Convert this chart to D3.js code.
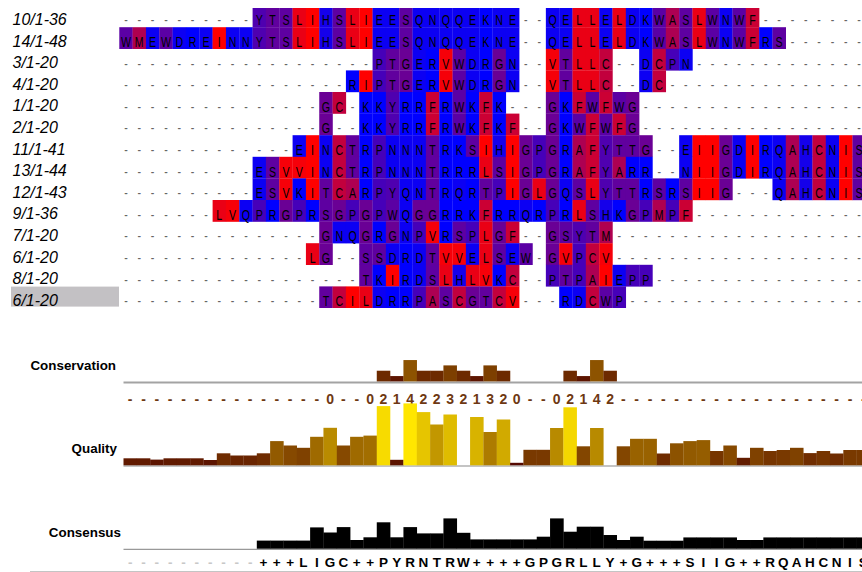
<!DOCTYPE html>
<html><head><meta charset="utf-8">
<script src="https://cdn.jsdelivr.net/npm/d3@7"></script>
<style>html,body{margin:0;padding:0;background:#fff;} svg{display:block;}</style>
</head><body>
<svg id="chart" width="862" height="572"></svg>
<script>
// ---------- DATA ----------
const sequenceNames = ["10/1-36","14/1-48","3/1-20","4/1-20","1/1-20","2/1-20","11/1-41","13/1-44","12/1-43","9/1-36","7/1-20","6/1-20","8/1-20","6/1-20"];
const alignedSequences = [
  "----------YTSLIHSLIEESQNQQEKNE--QELLELDKWASLWNWF--------",
  "WMEWDREINNYTSLIHSLIEESQNQQEKNE--QELLELDKWASLWNWFRS------",
  "-------------------PTGERVWDRGN--VTLLC--DCPN-------------",
  "-----------------RIPTGERVWDRGN--VTLLC--DC---------------",
  "---------------GC-KKYRRFRWKFK---GKFWFWG-----------------",
  "---------------G--KKYRRFRWKFKF--GKWFWFG-----------------",
  "-------------EINCTRPNNNTRKSIHIGPGRAFYTTG--EIIGDIRQAHCNIS",
  "----------ESVVINCTRPNNNTRRRLSIGPGRAFYARR--NIIGDIRQAHCNIS",
  "----------ESVKITCARPYQNTRQRTPIGLGQSLYTTRSRSIIG---QAHCNIS",
  "-------LVQPRGPRSGPGPWQGGRRKFRRQRPRLSHKGPMPF-------------",
  "---------------GNQGRGNPVRSPLGF--GSYTM-------------------",
  "--------------LG--SSDRDTVVELSEW-GVPCV-------------------",
  "------------------TKIRDSLHLVKC--PTPAIEPP----------------",
  "---------------TCILDRRPASCGTCV---RDCWP------------------"
];
const selectedRow = 13;
const conservationScores = [null,null,null,null,null,null,null,null,null,null,null,null,null,null,null,
  0,null,null,0,2,1,4,2,2,3,2,1,3,2,0,null,null,0,2,1,4,2,
  null,null,null,null,null,null,null,null,null,null,null,null,null,null,null,null,null,null,null];
const qualityScores = [7,7,5.7,7,7,7,5.3,12,9.8,9.8,12,24.2,19.8,17.5,28.5,37.5,19.8,28.5,29.7,59.2,5.5,61.9,53.2,40.8,50.8,0,48.3,33.3,45.8,2.5,15.5,15.5,37.3,58,19,37.3,0,19,26.5,26.5,11.8,22,24.2,25.2,14.3,19.8,7.5,17.5,14.3,15.3,17.5,12.2,14.3,11.8,15.3,15.3];
const consensusPercent = [0,0,0,0,0,0,0,0,0,0,13.5,13.5,13.5,13.5,35.5,27,36,14.5,19,44,19,36,25.5,25.5,50.5,26.5,15.5,15.5,15.5,15.5,15.5,20,50.5,28.3,36.7,36.7,22.8,14.5,20,13.3,13.3,13.3,18.8,18.8,18.8,18.8,14.5,14.5,18.8,18.8,18.8,18.8,18.8,18.8,18.8,18.8];
const consensusResidues = "----------+++LIGC++PYRNTRW++++GPGRLLY+G+++SIIG++RQAHCNIS".split("");
const annotationNames = ["Conservation","Quality","Consensus"];
// Kyte-Doolittle hydrophobicity
const hydrophobicity = {A:1.8,R:-4.5,N:-3.5,D:-3.5,C:2.5,Q:-3.5,E:-3.5,G:-0.4,H:-3.2,I:4.5,L:3.8,K:-3.9,M:1.9,F:2.8,P:-1.6,S:-0.8,T:-0.7,W:-0.9,Y:-1.3,V:4.2};

// ---------- DRAW ----------
const svg = d3.select("#chart");
const nCols = alignedSequences[0].length;
const colW = 13.33, rowH = 21.6;
const xAln = d3.scaleLinear().domain([0, nCols]).range([119.3, 119.3 + nCols * colW]);
const xAnn = d3.scaleLinear().domain([0, nCols]).range([123.5, 123.5 + nCols * colW]);
const yRow = d3.scaleBand().domain(d3.range(sequenceNames.length)).range([5.6, 5.6 + sequenceNames.length * rowH]);
const hydColor = d3.scaleLinear().domain([-3.9, 4.5]).range(["rgb(0,0,255)", "rgb(255,0,0)"]).clamp(true);
const annoColor = v => `rgb(${Math.round(255*(0.3+0.7*v))},${Math.round(255*0.9*v)},0)`;
const font = "'Liberation Sans', Arial, sans-serif";

svg.append("defs").append("clipPath").attr("id","alnclip")
  .append("rect").attr("x",119).attr("y",8).attr("width",743).attr("height",300);

// labels
svg.append("rect").attr("x",11).attr("y",yRow(selectedRow)+0.2).attr("width",108).attr("height",20)
  .attr("fill","#c3c1c4");
svg.append("g").selectAll("text").data(sequenceNames).join("text")
  .attr("x",12.5).attr("y",(d,i)=>yRow(i)+19.4)
  .attr("font-family",font).attr("font-style","italic").attr("font-size","16px").attr("fill","#000")
  .text(d=>d);

const cells = [];
alignedSequences.forEach((s,r)=>s.split("").forEach((ch,c)=>cells.push({r,c,ch})));
const aln = svg.append("g").attr("clip-path","url(#alnclip)");
aln.selectAll("rect").data(cells.filter(d=>d.ch!=="-")).join("rect")
  .attr("x",d=>xAln(d.c)).attr("y",d=>yRow(d.r))
  .attr("width",colW+0.2).attr("height",yRow.bandwidth()+0.2)
  .attr("fill",d=>hydColor(hydrophobicity[d.ch]));
aln.selectAll("text").data(cells).join("text")
  .attr("transform",d=>`translate(${xAln(d.c)+colW/2},${yRow(d.r)+19.7}) scale(0.7,1)`)
  .attr("text-anchor","middle").attr("font-family",font).attr("font-size","15.2px")
  .attr("fill",d=>d.ch==="-"?"#666":"#000")
  .text(d=>d.ch);

// annotation labels
const annLabelPos = [[116,369.5],[117,453],[121,536.7]];
svg.append("g").selectAll("text").data(annotationNames).join("text")
  .attr("x",(d,i)=>annLabelPos[i][0]).attr("y",(d,i)=>annLabelPos[i][1])
  .attr("text-anchor","end").attr("font-family",font).attr("font-weight","bold").attr("font-size","13.4px")
  .text(d=>d);

// conservation
const consH = d3.scaleLinear().domain([0,11]).range([0,58.7]);
const consBase = 381.4;
svg.append("line").attr("x1",xAnn(0)).attr("x2",862).attr("y1",consBase+1).attr("y2",consBase+1)
  .attr("stroke","#a3a3a3").attr("stroke-width",2);
const consData = conservationScores.map((v,c)=>({v,c}));
svg.append("g").selectAll("rect").data(consData.filter(d=>d.v>0)).join("rect")
  .attr("x",d=>xAnn(d.c)).attr("width",colW+0.2)
  .attr("y",d=>consBase-consH(d.v)).attr("height",d=>consH(d.v))
  .attr("fill",d=>annoColor(d.v/11));
svg.append("g").selectAll("text").data(consData).join("text")
  .attr("x",d=>xAnn(d.c)+colW/2).attr("y",404)
  .attr("text-anchor","middle").attr("font-family",font).attr("font-weight","bold").attr("font-size","14px")
  .attr("fill","#6e3812")
  .text(d=>d.v===null?"-":d.v);

// quality
const qMax = d3.max(qualityScores);
const qH = d3.scaleLinear().domain([0,qMax]).range([0,qMax]);
const qBase = 465.3;
svg.append("line").attr("x1",xAnn(0)).attr("x2",862).attr("y1",qBase+0.7).attr("y2",qBase+0.7)
  .attr("stroke","#b0b0b0").attr("stroke-width",1.4);
svg.append("g").selectAll("rect").data(qualityScores.map((v,c)=>({v,c})).filter(d=>d.v>0)).join("rect")
  .attr("x",d=>xAnn(d.c)).attr("width",colW+0.2)
  .attr("y",d=>qBase-qH(d.v)).attr("height",d=>qH(d.v))
  .attr("fill",d=>annoColor(d.v/qMax));

// consensus
const cH = d3.scaleLinear().domain([0,100]).range([0,60]);
const cBase = 548.7;
svg.append("line").attr("x1",xAnn(0)).attr("x2",862).attr("y1",cBase+0.6).attr("y2",cBase+0.6)
  .attr("stroke","#999").attr("stroke-width",1.3);
svg.append("g").selectAll("rect").data(consensusPercent.map((v,c)=>({v,c})).filter(d=>d.v>0)).join("rect")
  .attr("x",d=>xAnn(d.c)).attr("width",colW+0.3)
  .attr("y",d=>cBase-cH(d.v)).attr("height",d=>cH(d.v))
  .attr("fill","#000");
svg.append("g").selectAll("text").data(consensusResidues.map((ch,c)=>({ch,c}))).join("text")
  .attr("x",d=>xAnn(d.c)+colW/2).attr("y",566.7)
  .attr("text-anchor","middle").attr("font-family",font).attr("font-weight","bold").attr("font-size","13.5px")
  .attr("fill",d=>d.ch==="-"?"#c8c8c8":"#000")
  .text(d=>d.ch);

svg.append("line").attr("x1",30).attr("x2",862).attr("y1",571.5).attr("y2",571.5)
  .attr("stroke","#c4c4c4").attr("stroke-width",1);
</script>
</body></html>
